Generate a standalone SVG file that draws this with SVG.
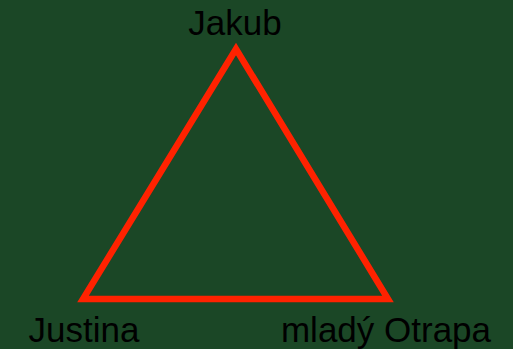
<svg xmlns="http://www.w3.org/2000/svg" width="513" height="349" viewBox="0 0 513 349">
<style>
.lbl{font-family:"Liberation Sans",Arial,sans-serif;font-size:35px;fill:#000;text-anchor:middle}
.edge{fill:none;stroke:#ff2200;stroke-width:6.5;stroke-linejoin:miter}
</style>
<rect width="513" height="349" fill="#1b4726"/>
<g id="connectors">
<polygon class="edge" points="236,49 83,299 388,299"/>
</g>
<g id="node-jakub"><text class="lbl" x="235" y="35">Jakub</text></g>
<g id="node-justina"><text class="lbl" x="84" y="342">Justina</text></g>
<g id="node-otrapa"><text class="lbl" x="386" y="342">mladý Otrapa</text></g>
</svg>
